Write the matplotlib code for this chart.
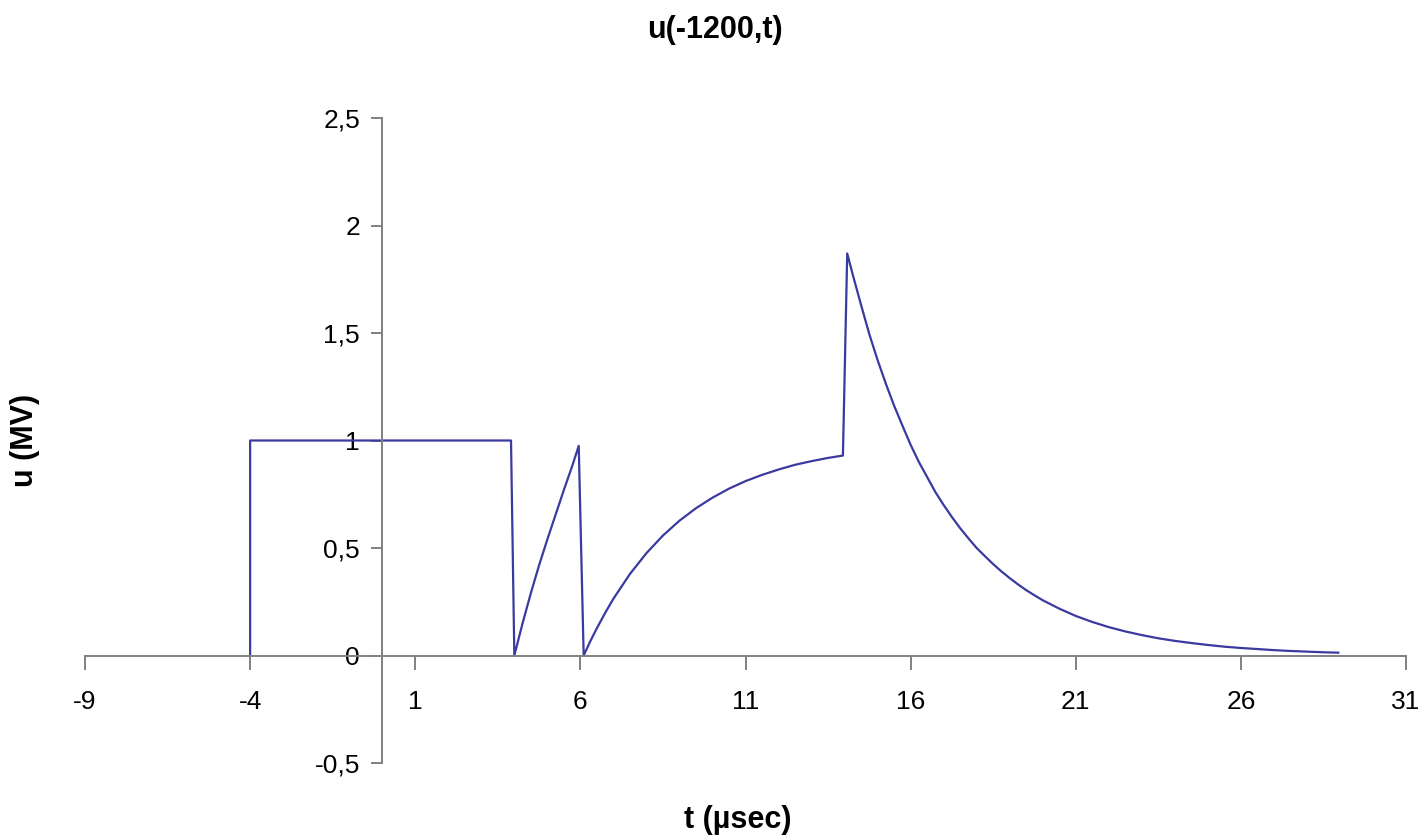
import matplotlib
matplotlib.use("Agg")
import matplotlib.pyplot as plt

# u(-1200,t)
t_us = [-4, -4, 3.9, 4.0, 4.25, 4.5, 4.75, 5.0, 5.25, 5.5, 5.75, 5.95,
        6.1, 6.3, 6.5, 6.75, 7, 7.5, 8, 8.5, 9, 9.5, 10, 10.5, 11, 11.5, 12,
        12.5, 13, 13.5, 13.95, 14.08, 14.25, 14.5, 14.75, 15, 15.25, 15.5,
        15.75, 16, 16.25, 16.5, 16.75, 17, 17.25, 17.5, 17.75, 18, 18.25,
        18.5, 18.75, 19, 19.25, 19.5, 19.75, 20, 20.5, 21, 21.5, 22, 22.5,
        23, 23.5, 24, 24.5, 25, 25.5, 26, 26.5, 27, 27.5, 28, 28.5, 28.95]
u_mv = [0, 1.0, 1.0, 0, 0.15, 0.29, 0.42, 0.54, 0.655, 0.77, 0.88, 0.975,
        0, 0.066, 0.127, 0.198, 0.264, 0.379, 0.476, 0.558, 0.627, 0.685,
        0.734, 0.776, 0.811, 0.84, 0.865, 0.887, 0.904, 0.919, 0.93,
        1.87, 1.77, 1.63, 1.494, 1.374, 1.264, 1.162, 1.07, 0.98, 0.90,
        0.83, 0.76, 0.70, 0.644, 0.592, 0.545, 0.50, 0.462, 0.425, 0.391,
        0.36, 0.331, 0.304, 0.28, 0.257, 0.218, 0.184, 0.156, 0.132, 0.112,
        0.095, 0.080, 0.068, 0.058, 0.049, 0.041, 0.035, 0.030, 0.025,
        0.021, 0.018, 0.015, 0.013]

xticks = [-9, -4, 1, 6, 11, 16, 21, 26, 31]
yticks = [-0.5, 0, 0.5, 1, 1.5, 2, 2.5]
ytick_labels = ["-0,5", "0", "0,5", "1", "1,5", "2", "2,5"]

plt.rcParams['font.family'] = ['Liberation Sans', 'DejaVu Sans']
axis_grey = '#808080'

fig = plt.figure(figsize=(14.26, 8.4), dpi=100)
ax = fig.add_axes([85/1426, 1 - 763/840, (1406 - 85)/1426, (763 - 118)/840])

ax.plot(t_us, u_mv, color='#3a3aa0', linewidth=1.6)

ax.set_xlim(-9, 31)
ax.set_ylim(-0.5, 2.5)
ax.spines['left'].set_position(('data', 0))
ax.spines['bottom'].set_position(('data', 0))
ax.spines['top'].set_visible(False)
ax.spines['right'].set_visible(False)
for s in ('left', 'bottom'):
    ax.spines[s].set_color(axis_grey)
    ax.spines[s].set_linewidth(1.4)

ax.set_xticks(xticks)
ax.set_xticklabels([str(v) for v in xticks])
ax.set_yticks(yticks)
ax.set_yticklabels(ytick_labels)
ax.tick_params(axis='x', direction='out', length=10, width=1.4,
               color=axis_grey, labelsize=19, pad=15)
ax.tick_params(axis='y', direction='out', length=8, width=1.4,
               color=axis_grey, labelsize=19, pad=8)

fig.text(715/1426, 1 - 30/840, "u(-1200,t)", ha='center', va='center',
         fontsize=22, fontweight='bold')
fig.text(738/1426, 1 - 820/840, "t (µsec)", ha='center', va='center',
         fontsize=22, fontweight='bold')
fig.text(25/1426, 1 - 440/840, "u (MV)", ha='center', va='center',
         fontsize=22, fontweight='bold', rotation=90)

fig.savefig("out.png", dpi=100)
